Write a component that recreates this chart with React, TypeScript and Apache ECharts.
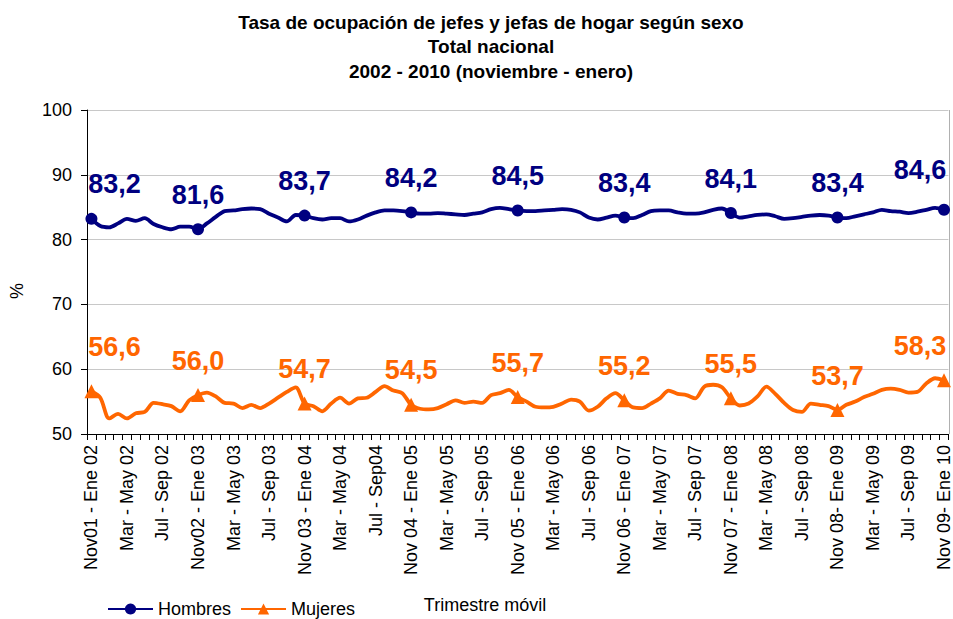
import React, { useEffect, useRef } from "react";
import * as echarts from "echarts";

const FONT = 'Arial, "Liberation Sans", sans-serif';

const tickLabels = [
  "Nov01 - Ene 02", "Mar - May 02", "Jul - Sep 02",
  "Nov02 - Ene 03", "Mar - May 03", "Jul - Sep 03",
  "Nov 03 - Ene 04", "Mar - May 04", "Jul - Sep04",
  "Nov 04 - Ene 05", "Mar - May 05", "Jul - Sep 05",
  "Nov 05 - Ene 06", "Mar - May 06", "Jul - Sep 06",
  "Nov 06 - Ene 07", "Mar - May 07", "Jul - Sep 07",
  "Nov 07 - Ene 08", "Mar - May 08", "Jul - Sep 08",
  "Nov 08- Ene 09", "Mar - May 09", "Jul - Sep 09",
  "Nov 09- Ene 10",
];

const trimestres = [
  "Nov - Ene", "Dic - Feb", "Ene - Mar", "Feb - Abr", "Mar - May", "Abr - Jun",
  "May - Jul", "Jun - Ago", "Jul - Sep", "Ago - Oct", "Sep - Nov", "Oct - Dic",
];

const hombres = [
  83.2, 82.1, 81.9, 82.5, 83.2, 82.9, 83.3, 82.4, 81.9, 81.6, 82.0, 82.0,
  81.6, 82.5, 83.5, 84.4, 84.5, 84.7, 84.8, 84.7, 84.0, 83.4, 82.8, 83.8,
  83.7, 83.3, 83.1, 83.3, 83.3, 82.8, 83.1, 83.7, 84.2, 84.5, 84.5, 84.4,
  84.2, 84.0, 84.0, 84.1, 84.0, 83.9, 83.8, 84.0, 84.2, 84.7, 84.9, 84.7,
  84.5, 84.4, 84.4, 84.5, 84.6, 84.7, 84.6, 84.2, 83.4, 83.1, 83.4, 83.7,
  83.4, 83.3, 83.8, 84.4, 84.5, 84.5, 84.2, 84.0, 84.0, 84.2, 84.6, 84.8,
  84.1, 83.4, 83.6, 83.8, 83.9, 83.6, 83.2, 83.3, 83.5, 83.7, 83.8, 83.7,
  83.4, 83.3, 83.6, 83.9, 84.2, 84.6, 84.4, 84.3, 84.1, 84.3, 84.6, 84.9,
  84.6,
];

const mujeres = [
  56.6, 55.6, 52.4, 53.1, 52.4, 53.2, 53.4, 54.8, 54.6, 54.3, 53.5, 55.2,
  56.0, 56.4, 55.8, 54.8, 54.7, 54.0, 54.5, 54.0, 54.7, 55.6, 56.5, 57.2,
  54.7, 54.3, 53.5, 54.7, 55.6, 54.7, 55.5, 55.6, 56.5, 57.4, 56.7, 56.3,
  54.5, 53.9, 53.8, 54.0, 54.6, 55.2, 54.8, 55.0, 54.8, 56.0, 56.3, 56.8,
  55.7, 55.0, 54.2, 54.1, 54.2, 54.7, 55.3, 55.0, 53.6, 54.2, 55.5, 56.3,
  55.2, 54.1, 54.0, 54.7, 55.5, 56.7, 56.2, 56.0, 55.5, 57.3, 57.6, 57.2,
  55.5, 54.4, 54.7, 55.8, 57.3, 56.2, 54.8, 53.7, 53.4, 54.7, 54.5, 54.3,
  53.7, 54.5, 55.0, 55.7, 56.2, 56.8, 57.0, 56.8, 56.4, 56.5, 57.8, 58.6,
  58.3,
];

const categories = hombres.map((_, i) =>
  i % 4 === 0 ? tickLabels[i / 4] : `${trimestres[i % 12]} ${2002 + Math.floor((i + 1) / 12)}`
);

const fmt = (v: number) => v.toFixed(1).replace(".", ",");

function buildData(values: number[], symbol: string, size: number, color: string, distance: number, firstOffset: number[], lastOffset: number[]) {
  const last = values.length - 1;
  return values.map((v, i) => {
    if (i % 12 !== 0) return { value: v, symbol: "none" };
    const offset = i === 0 ? firstOffset : i === last ? lastOffset : [0, 0];
    return {
      value: v,
      symbol,
      symbolSize: size,
      label: {
        show: true,
        position: "top",
        distance,
        offset,
        formatter: (p: any) => fmt(p.value),
        color,
        fontSize: 27,
        fontWeight: "bold",
        fontFamily: FONT,
      },
    };
  });
}

export default function App() {
  const ref = useRef<HTMLDivElement>(null);
  useEffect(() => {
    if (!ref.current) return;
    const chart = echarts.init(ref.current, undefined, { renderer: "svg" });
    const navy = "#000080";
    const orange = "#FF6600";
    chart.setOption({
      animation: false,
      backgroundColor: "#ffffff",
      title: {
        text: "Tasa de ocupación de jefes y jefas de hogar según sexo\nTotal nacional\n2002 - 2010 (noviembre - enero)",
        left: 491,
        top: 10,
        padding: 0,
        textAlign: "center",
        textStyle: { fontSize: 19, fontWeight: "bold", lineHeight: 24.5, fontFamily: FONT, color: "#000" },
      },
      legend: {
        left: 107,
        top: 600,
        itemWidth: 45,
        itemHeight: 14,
        itemGap: 9,
        padding: 0,
        textStyle: { fontSize: 18, fontFamily: FONT, color: "#000" },
        data: ["Hombres", "Mujeres"],
      },
      grid: { left: 87, right: 4, top: 110, bottom: 185, containLabel: false },
      xAxis: {
        type: "category",
        data: categories,
        boundaryGap: true,
        axisLine: { show: true, lineStyle: { color: "#000", width: 1 } },
        axisTick: { show: true, interval: 0, length: 6, lineStyle: { color: "#000" } },
        axisLabel: { interval: 3, rotate: 90, fontSize: 18, fontFamily: FONT, color: "#000", margin: 11 },
        splitLine: { show: false },
      },
      yAxis: {
        type: "value",
        min: 50,
        max: 100,
        interval: 10,
        axisLine: { show: true, lineStyle: { color: "#000", width: 1 } },
        axisTick: { show: true, length: 6, lineStyle: { color: "#000" } },
        axisLabel: { fontSize: 18, fontFamily: FONT, color: "#000", margin: 15 },
        splitLine: { show: true, lineStyle: { color: "#c8c8c8", width: 1 } },
      },
      graphic: [
        {
          type: "line",
          shape: { x1: 949.5, y1: 110, x2: 949.5, y2: 434 },
          style: { stroke: "#b0b0b0", lineWidth: 1 },
        },
        {
          type: "text",
          x: 17,
          y: 291,
          rotation: Math.PI / 2,
          style: { text: "%", fontSize: 18, fontFamily: FONT, fill: "#000", textAlign: "center", textVerticalAlign: "middle" },
        },
        {
          type: "text",
          x: 485,
          y: 605,
          style: { text: "Trimestre móvil", fontSize: 18, fontFamily: FONT, fill: "#000", textAlign: "center", textVerticalAlign: "middle" },
        },
      ],
      series: [
        {
          name: "Hombres",
          type: "line",
          smooth: 0.3,
          symbol: "circle",
          symbolSize: 12,
          showAllSymbol: true,
          color: navy,
          lineStyle: { color: navy, width: 3.8 },
          itemStyle: { color: navy },
          data: buildData(hombres, "circle", 12, navy, 15, [23, 0], [-24, -5]),
        },
        {
          name: "Mujeres",
          type: "line",
          smooth: 0.3,
          symbol: "triangle",
          symbolSize: 14,
          showAllSymbol: true,
          color: orange,
          lineStyle: { color: orange, width: 3.8 },
          itemStyle: { color: orange },
          data: buildData(mujeres, "triangle", 14, orange, 14, [23, -10], [-24, 0]),
        },
      ],
    });
    return () => chart.dispose();
  }, []);
  return <div ref={ref} style={{ position: "fixed", left: 0, top: 0, width: 953, height: 619 }} />;
}
